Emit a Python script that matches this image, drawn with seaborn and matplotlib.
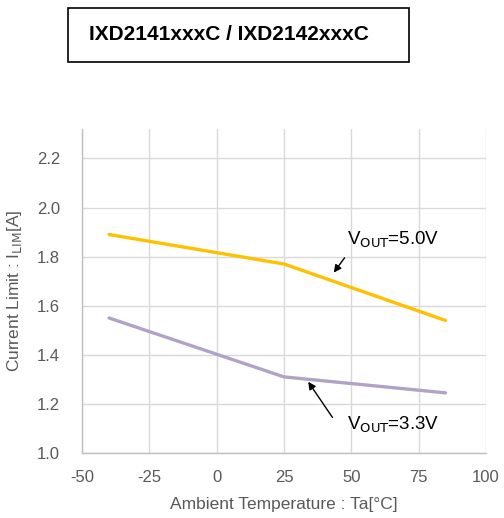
import pandas as pd
import seaborn as sns
import matplotlib.pyplot as plt
from matplotlib.patches import Rectangle

sns.set_theme(style="whitegrid")
plt.rcParams['font.family'] = ['Liberation Sans', 'DejaVu Sans']

# data
temps = [-40, 25, 85]
ilim_5v0 = [1.89, 1.77, 1.54]
ilim_3v3 = [1.55, 1.31, 1.245]
x_ticks = [-50, -25, 0, 25, 50, 75, 100]
y_ticks = [1.0, 1.2, 1.4, 1.6, 1.8, 2.0, 2.2]

df = pd.DataFrame({
    "Ta": temps * 2,
    "ILIM": ilim_5v0 + ilim_3v3,
    "Vout": ["5.0V"] * 3 + ["3.3V"] * 3,
})

fig = plt.figure(figsize=(5.04, 5.18), dpi=100)
ax = fig.add_axes([0.163, 0.1255, 0.801, 0.6255])

sns.lineplot(data=df, x="Ta", y="ILIM", hue="Vout",
             palette={"5.0V": "#FFC000", "3.3V": "#B3A2C7"},
             linewidth=2.4, legend=False, ax=ax)

ax.set_xlim(-50, 100)
ax.set_ylim(1.0, 2.32)
ax.set_xticks(x_ticks)
ax.set_yticks(y_ticks)
ax.set_xticklabels([str(t) for t in x_ticks])
ax.set_yticklabels([f"{t:.1f}" for t in y_ticks])
ax.grid(True, color="#D9D9D9", linewidth=1.0)
ax.tick_params(labelsize=12, colors="#595959", length=0)
ax.tick_params(axis="y", pad=16)
ax.tick_params(axis="x", pad=12)
for side in ["top", "right"]:
    ax.spines[side].set_visible(False)
for side in ["left", "bottom"]:
    ax.spines[side].set_color("#BFBFBF")
    ax.spines[side].set_linewidth(1.0)

ax.set_xlabel("Ambient Temperature : Ta[°C]", fontsize=12.5, color="#595959", labelpad=9)
ax.set_ylabel("Current Limit : I$_{\\mathrm{LIM}}$[A]", fontsize=12.5, color="#595959", labelpad=9)

# annotations: labels and arrows drawn separately
ax.text(48.5, 1.87, "V$_{\\mathrm{OUT}}$=5.0V", fontsize=13.5, color="black",
        ha="left", va="center")
ax.annotate("", xy=(43.5, 1.735), xytext=(47.5, 1.795),
            arrowprops=dict(arrowstyle="-|>", color="black", lw=1.0,
                            shrinkA=0, shrinkB=0, mutation_scale=11))
ax.text(48.5, 1.115, "V$_{\\mathrm{OUT}}$=3.3V", fontsize=13.5, color="black",
        ha="left", va="center")
ax.annotate("", xy=(34, 1.29), xytext=(43, 1.145),
            arrowprops=dict(arrowstyle="-|>", color="black", lw=1.0,
                            shrinkA=0, shrinkB=0, mutation_scale=11))

# title box
fig.patches.append(Rectangle((68 / 504, 1 - 62 / 518), (409 - 68) / 504, (62 - 8) / 518,
                             transform=fig.transFigure, fill=False,
                             edgecolor="black", linewidth=1.2))
fig.text(89 / 504, 1 - 35 / 518, "IXD2141xxxC / IXD2142xxxC",
         fontsize=15, fontweight="bold", ha="left", va="center", color="black")

fig.savefig("out.png", dpi=100)
